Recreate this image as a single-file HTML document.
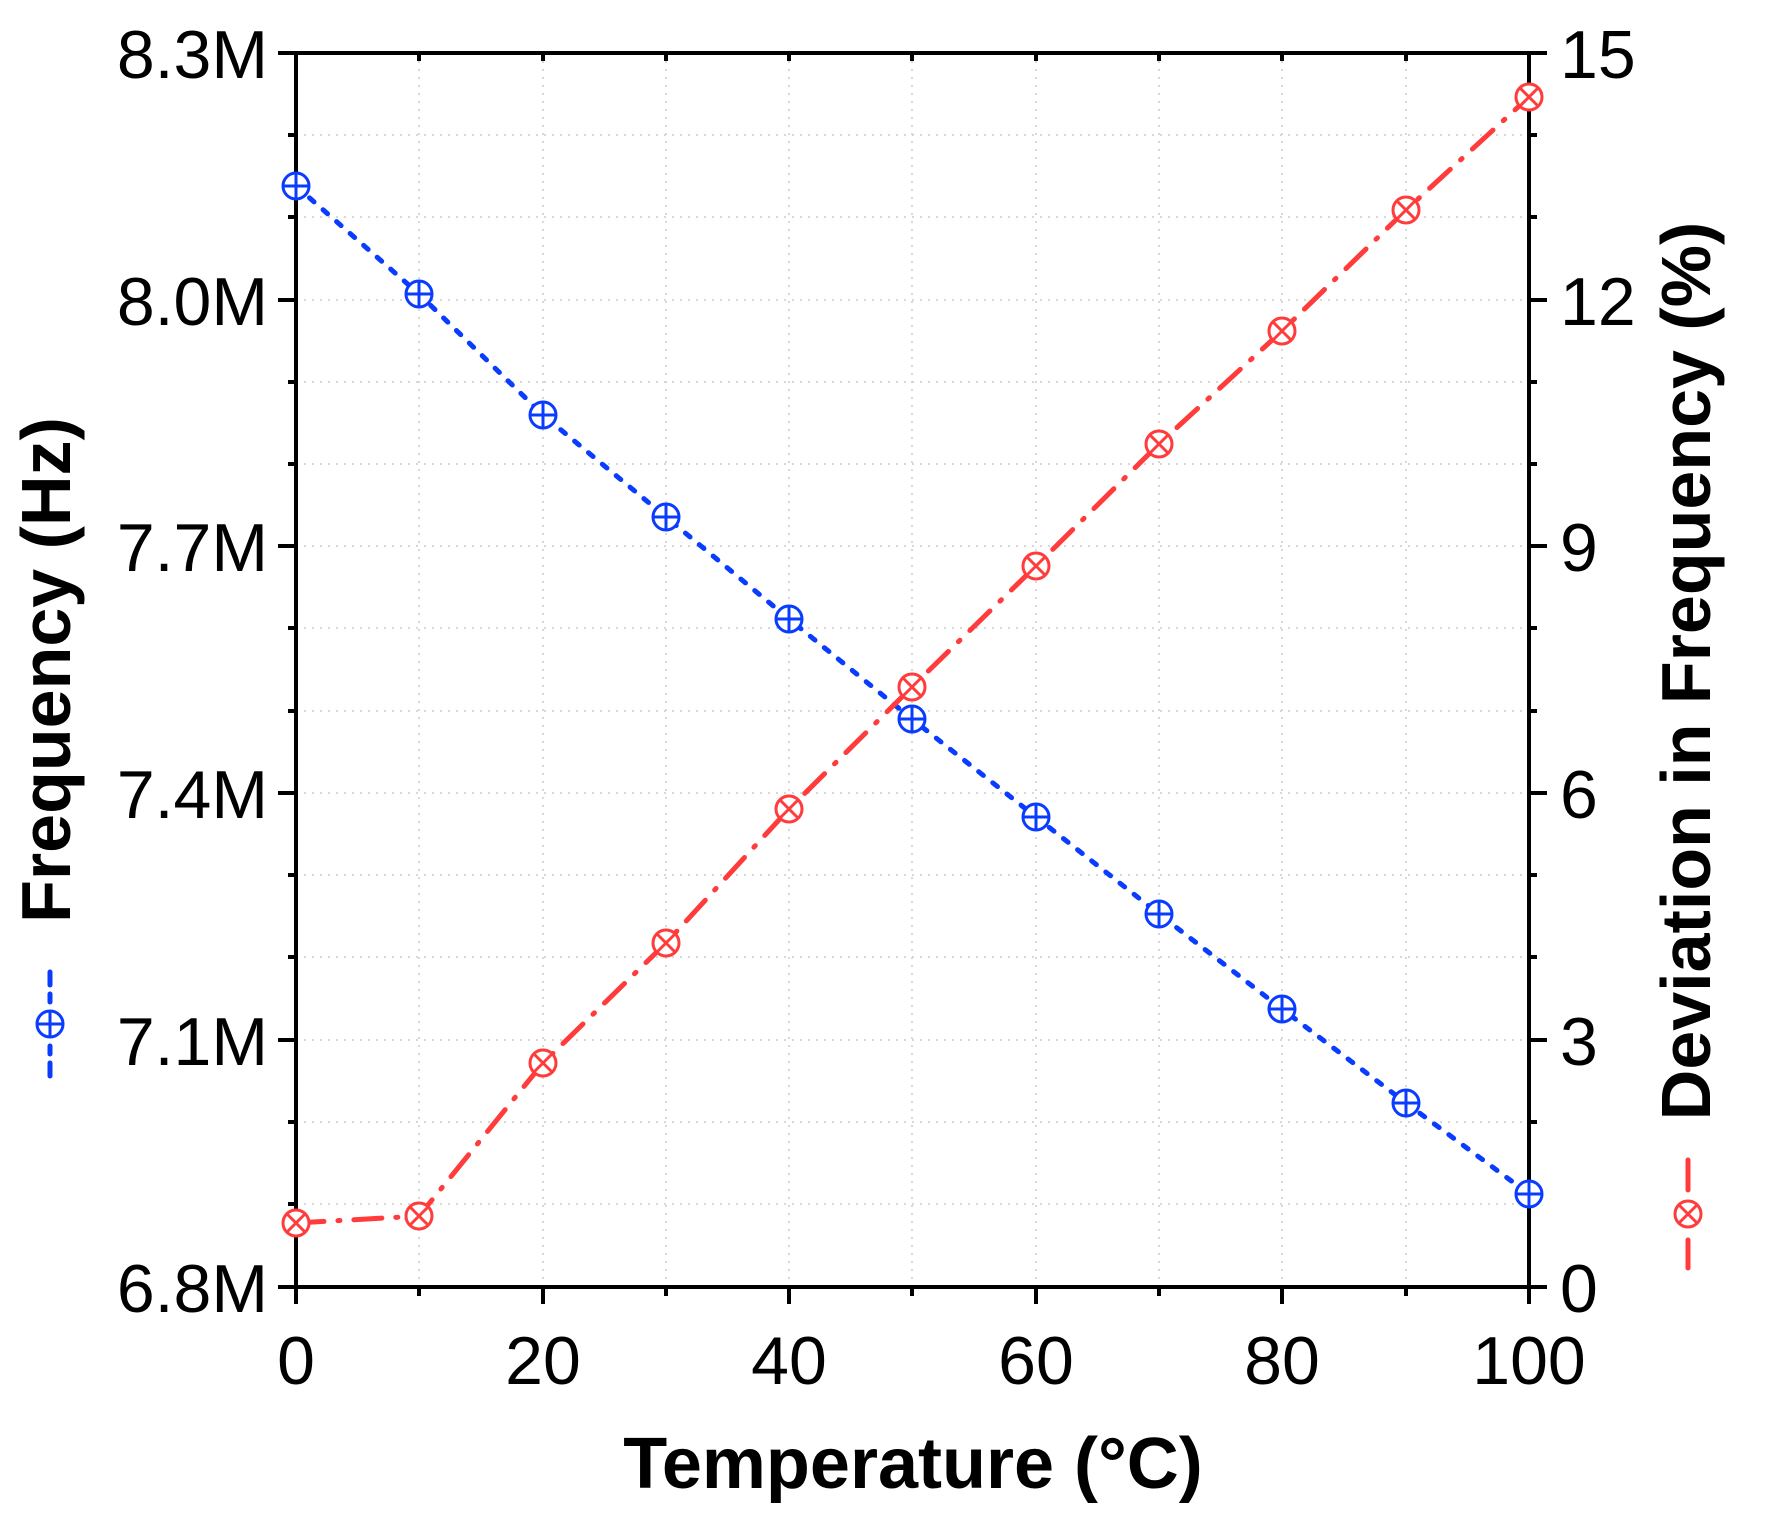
<!DOCTYPE html>
<html><head><meta charset="utf-8"><style>html,body{margin:0;padding:0;background:#fff}svg{display:block}</style></head>
<body>
<svg width="1766" height="1535" viewBox="0 0 1766 1535" xmlns="http://www.w3.org/2000/svg" font-family="Liberation Sans, Arial, sans-serif">
<defs>
<g id="b"><circle r="13"/><path d="M-13 0H13M0 -13V13"/></g>
<g id="r"><circle r="13"/><path d="M-10 -10L10 10M-10 10L10 -10"/></g>
</defs>
<g stroke="#ccc" stroke-width="1.5" stroke-dasharray="2 6">
<line x1="419" y1="53" x2="419" y2="1287"/><line x1="543" y1="53" x2="543" y2="1287"/><line x1="666" y1="53" x2="666" y2="1287"/><line x1="789" y1="53" x2="789" y2="1287"/><line x1="912" y1="53" x2="912" y2="1287"/><line x1="1036" y1="53" x2="1036" y2="1287"/><line x1="1159" y1="53" x2="1159" y2="1287"/><line x1="1282" y1="53" x2="1282" y2="1287"/><line x1="1406" y1="53" x2="1406" y2="1287"/>
<line x1="296" y1="135" x2="1529" y2="135"/><line x1="296" y1="217" x2="1529" y2="217"/><line x1="296" y1="300" x2="1529" y2="300"/><line x1="296" y1="382" x2="1529" y2="382"/><line x1="296" y1="464" x2="1529" y2="464"/><line x1="296" y1="546" x2="1529" y2="546"/><line x1="296" y1="628" x2="1529" y2="628"/><line x1="296" y1="711" x2="1529" y2="711"/><line x1="296" y1="793" x2="1529" y2="793"/><line x1="296" y1="875" x2="1529" y2="875"/><line x1="296" y1="957" x2="1529" y2="957"/><line x1="296" y1="1040" x2="1529" y2="1040"/><line x1="296" y1="1122" x2="1529" y2="1122"/><line x1="296" y1="1204" x2="1529" y2="1204"/>
</g>
<g stroke="#000" stroke-width="4">
<rect x="296" y="53" width="1233" height="1234" fill="none"/>
<path d="M278 53H296M278 300H296M278 546H296M278 793H296M278 1040H296M278 1287H296"/>
<path d="M288 135H296M288 217H296M288 382H296M288 464H296M288 628H296M288 711H296M288 875H296M288 957H296M288 1122H296M288 1204H296"/>
<path d="M1529 53H1547M1529 300H1547M1529 546H1547M1529 793H1547M1529 1040H1547M1529 1287H1547"/>
<path d="M1529 135H1537M1529 217H1537M1529 382H1537M1529 464H1537M1529 628H1537M1529 711H1537M1529 875H1537M1529 957H1537M1529 1122H1537M1529 1204H1537"/>
<path d="M296 1287V1304M543 1287V1304M789 1287V1304M1036 1287V1304M1282 1287V1304M1529 1287V1304"/>
<path d="M419 1287V1296M666 1287V1296M912 1287V1296M1159 1287V1296M1406 1287V1296"/>
<path d="M419 53V61M543 53V61M666 53V61M789 53V61M912 53V61M1036 53V61M1159 53V61M1282 53V61M1406 53V61"/>
</g>
<g font-size="68" fill="#000" text-anchor="end">
<text x="268" y="78">8.3M</text><text x="268" y="325">8.0M</text><text x="268" y="571">7.7M</text><text x="268" y="818">7.4M</text><text x="268" y="1065">7.1M</text><text x="268" y="1312">6.8M</text>
</g>
<g font-size="68" fill="#000" text-anchor="start">
<text x="1560" y="78">15</text><text x="1560" y="325">12</text><text x="1560" y="571">9</text><text x="1560" y="818">6</text><text x="1560" y="1065">3</text><text x="1560" y="1312">0</text>
</g>
<g font-size="68" fill="#000" text-anchor="middle">
<text x="296" y="1384">0</text><text x="543" y="1384">20</text><text x="789" y="1384">40</text><text x="1036" y="1384">60</text><text x="1282" y="1384">80</text><text x="1529" y="1384">100</text>
</g>
<text x="913" y="1488" font-size="72" font-weight="bold" text-anchor="middle">Temperature (°C)</text>
<text transform="translate(70,670) rotate(-90)" font-size="70" font-weight="bold" text-anchor="middle">Frequency (Hz)</text>
<text transform="translate(1710,671) rotate(-90)" font-size="70" font-weight="bold" text-anchor="middle">Deviation in Frequency (%)</text>
<polyline fill="none" stroke="#0a3cff" stroke-width="5" stroke-linecap="round" stroke-dasharray="6 12" points="296,186 419,294 543,415 666,517 789,619 912,719 1036,817 1159,914 1282,1009 1406,1103 1529,1194"/>
<g fill="#fff" stroke="#0a3cff" stroke-width="3">
<use href="#b" x="296" y="186"/><use href="#b" x="419" y="294"/><use href="#b" x="543" y="415"/><use href="#b" x="666" y="517"/><use href="#b" x="789" y="619"/><use href="#b" x="912" y="719"/><use href="#b" x="1036" y="817"/><use href="#b" x="1159" y="914"/><use href="#b" x="1282" y="1009"/><use href="#b" x="1406" y="1103"/><use href="#b" x="1529" y="1194"/>
<use href="#b" x="50" y="1024"/>
</g>
<path d="M50 972V985M50 994V1002M50 1046V1054M50 1063V1076" stroke="#0a3cff" stroke-width="5" stroke-linecap="round"/>
<polyline fill="none" stroke="#ff3b3b" stroke-width="5" stroke-linecap="round" stroke-dasharray="28 14 2 14" points="296,1223 419,1216 543,1063 666,943 789,809 912,687 1036,566 1159,444 1282,331 1406,210 1529,97"/>
<g fill="#fff" stroke="#ff3b3b" stroke-width="3">
<use href="#r" x="296" y="1223"/><use href="#r" x="419" y="1216"/><use href="#r" x="543" y="1063"/><use href="#r" x="666" y="943"/><use href="#r" x="789" y="809"/><use href="#r" x="912" y="687"/><use href="#r" x="1036" y="566"/><use href="#r" x="1159" y="444"/><use href="#r" x="1282" y="331"/><use href="#r" x="1406" y="210"/><use href="#r" x="1529" y="97"/>
<use href="#r" x="1688" y="1214"/>
</g>
<path d="M1688 1160V1190M1688 1240V1268" stroke="#ff3b3b" stroke-width="5" stroke-linecap="round"/>
</svg>
</body></html>
